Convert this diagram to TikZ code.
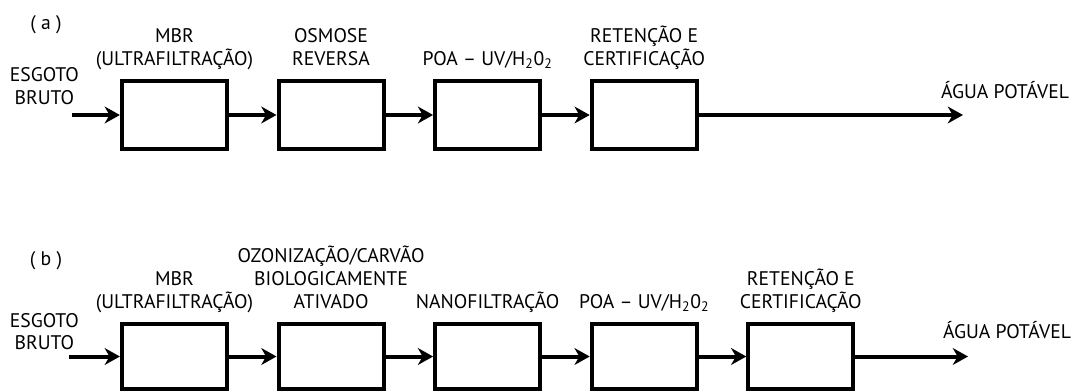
\documentclass[tikz,border=0pt]{standalone}
\usepackage{fontspec}
\setmainfont{PT Sans}
\usetikzlibrary{positioning,arrows.meta}
\tikzset{
	etapa/.style={draw, line width=0.1cm, minimum width=2.625cm, minimum height=1.7cm, inner sep=0pt},
	etapab/.style={etapa, minimum height=1.625cm},
	rotulo/.style={align=center, font=\fontsize{14}{16.3}\selectfont, inner sep=0pt, text depth=0.1cm},
	fluxo/.style={line width=0.1cm, -{Stealth[length=0.38cm,width=0.42cm,inset=0.12cm]}}
}

\begin{document}
\begin{tikzpicture}[node distance=1.19cm]
			%%%%% START %%%%%
			\useasboundingbox (0, 0) rectangle (26.825, 9.775);
			
			% (a)
			\node[rotulo] (tita) at (1.15, 9.175) {( a )};
			\node[rotulo] (enta) at (1.11, 7.575) {ESGOTO\\BRUTO};
			\coordinate (ina) at (1.8, 6.9);
			
			\node[etapa] (a1) at (4.36, 6.9) {};
			\node[etapa, right=of a1] (a2) {};
			\node[etapa, right=of a2] (a3) {};
			\node[etapa, right=of a3] (a4) {};
			\coordinate (outa) at (24.075, 6.9);
			
			\node[rotulo, above=0.225cm of a1] (ta1) {MBR\\(ULTRAFILTRAÇÃO)};
			\node[rotulo, above=0.225cm of a2] (ta2) {OSMOSE\\REVERSA};
			\node[rotulo, above=0.225cm of a3] (ta3) {POA – UV/H\textsubscript{2}0\textsubscript{2}};
			\node[rotulo, above=0.225cm of a4] (ta4) {RETENÇÃO E\\CERTIFICAÇÃO};
			\node[rotulo] (saia) at (25.125, 7.475) {ÁGUA POTÁVEL};
			
			\draw[fluxo] (ina) -- (a1);
			\draw[fluxo] (a1) -- (a2);
			\draw[fluxo] (a2) -- (a3);
			\draw[fluxo] (a3) -- (a4);
			\draw[fluxo] (a4) -- (outa);
			
			% (b)
			\node[rotulo] (titb) at (1.15, 3.275) {( b )};
			\node[rotulo] (entb) at (1.11, 1.4375) {ESGOTO\\BRUTO};
			\coordinate (inb) at (1.725, 0.8625);
			
			\node[etapab] (b1) at (4.36, 0.8625) {};
			\node[etapab, right=of b1] (b2) {};
			\node[etapab, right=of b2] (b3) {};
			\node[etapab, right=of b3] (b4) {};
			\node[etapab, right=of b4] (b5) {};
			\coordinate (outb) at (24.2, 0.8625);
			
			\node[rotulo, above=0.225cm of b1] (tb1) {MBR\\(ULTRAFILTRAÇÃO)};
			\node[rotulo, above=0.225cm of b2] (tb2) {OZONIZAÇÃO/CARVÃO\\BIOLOGICAMENTE\\ATIVADO};
			\node[rotulo, above=0.225cm of b3] (tb3) {NANOFILTRAÇÃO};
			\node[rotulo, above=0.225cm of b4] (tb4) {POA – UV/H\textsubscript{2}0\textsubscript{2}};
			\node[rotulo, above=0.225cm of b5] (tb5) {RETENÇÃO E\\CERTIFICAÇÃO};
			\node[rotulo] (saib) at (25.175, 1.475) {ÁGUA POTÁVEL};
			
			\draw[fluxo] (inb) -- (b1);
			\draw[fluxo] (b1) -- (b2);
			\draw[fluxo] (b2) -- (b3);
			\draw[fluxo] (b3) -- (b4);
			\draw[fluxo] (b4) -- (b5);
			\draw[fluxo] (b5) -- (outb);
			%%%%% END %%%%%
\end{tikzpicture}
\end{document}
